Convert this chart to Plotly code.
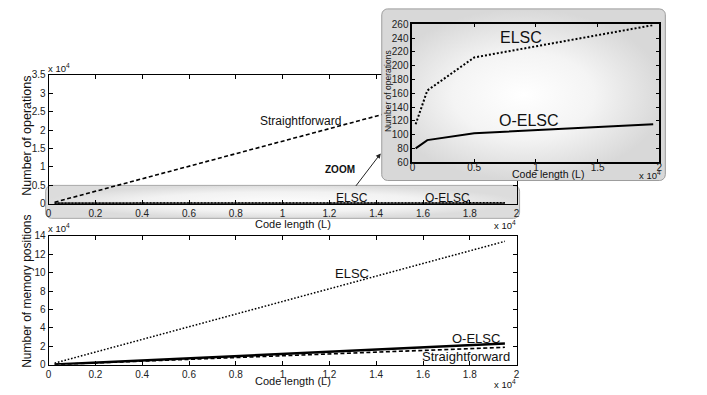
import numpy as np
import plotly.graph_objects as go

# ---------------- data ----------------
code_len = [256, 1200, 5000, 19500]
ops_straightforward = [435, 2040, 8500, 33150]
ops_elsc = [115, 164, 212, 259]
ops_oelsc = [80, 92, 102, 115]
mem_elsc = [1800, 8300, 34500, 134000]
mem_oelsc = [300, 1400, 5900, 23000]
mem_straightforward = [256, 1200, 4900, 19000]

x_tickvals = [0, 2000, 4000, 6000, 8000, 10000, 12000, 14000, 16000, 18000, 20000]
x_ticktext = ["0", "0.2", "0.4", "0.6", "0.8", "1", "1.2", "1.4", "1.6", "1.8", "2"]
ops_tickvals = [0, 5000, 10000, 15000, 20000, 25000, 30000, 35000]
ops_ticktext = ["0", "0.5", "1", "1.5", "2", "2.5", "3", "3.5"]
mem_tickvals = [0, 20000, 40000, 60000, 80000, 100000, 120000, 140000]
mem_ticktext = ["0", "2", "4", "6", "8", "10", "12", "14"]
inset_x_tickvals = [0, 5000, 10000, 15000, 20000]
inset_x_ticktext = ["0", "0.5", "1", "1.5", "2"]
inset_y_tickvals = [60, 80, 100, 120, 140, 160, 180, 200, 220, 240, 260]

W, H = 707, 395
FONT = "Liberation Sans, Arial, sans-serif"


def px(x):
    return x / W


def py(y):
    return 1 - y / H


def rounded_rect(x0, y0, x1, y1, r, n=8):
    xs, ys = [], []
    corners = [(x1 - r, y0 + r, -90, 0), (x1 - r, y1 - r, 0, 90),
               (x0 + r, y1 - r, 90, 180), (x0 + r, y0 + r, 180, 270)]
    for cx, cy, a0, a1 in corners:
        for a in np.linspace(np.radians(a0), np.radians(a1), n):
            xs.append(cx + r * np.cos(a))
            ys.append(cy + r * np.sin(a))
    xs.append(xs[0])
    ys.append(ys[0])
    return xs, ys


DASH = "4px,2.5px"
DOT = "1.6px,1.8px"

fig = go.Figure()

# ---- zoom band (overlay subplot xy, pixel coordinates) ----
bx, by = rounded_rect(43, 185, 521, 219, 6)
fig.add_trace(go.Scatter(x=bx, y=by, xaxis="x", yaxis="y", mode="lines",
                         fill="toself",
                         fillgradient=dict(type="radial",
                                           colorscale=[[0, "#fcfcfc"], [0.6, "#f2f2f2"], [1, "#dcdcdc"]]),
                         line=dict(color="#a8a8a8", width=1), hoverinfo="skip"))

# ---- top chart (x2y2) ----
fig.add_trace(go.Scatter(x=code_len, y=ops_straightforward, xaxis="x2", yaxis="y2", mode="lines",
                         line=dict(color="black", width=1.6, dash=DASH)))
fig.add_trace(go.Scatter(x=code_len, y=ops_elsc, xaxis="x2", yaxis="y2", mode="lines",
                         line=dict(color="black", width=1.5, dash=DOT)))
fig.add_trace(go.Scatter(x=code_len, y=ops_oelsc, xaxis="x2", yaxis="y2", mode="lines",
                         line=dict(color="black", width=2)))

# ---- bottom chart (x3y3) ----
fig.add_trace(go.Scatter(x=code_len, y=mem_elsc, xaxis="x3", yaxis="y3", mode="lines",
                         line=dict(color="black", width=1.5, dash=DOT)))
fig.add_trace(go.Scatter(x=code_len, y=mem_straightforward, xaxis="x3", yaxis="y3", mode="lines",
                         line=dict(color="black", width=1.6, dash=DASH)))
fig.add_trace(go.Scatter(x=code_len, y=mem_oelsc, xaxis="x3", yaxis="y3", mode="lines",
                         line=dict(color="black", width=2.5)))

# ---- inset background (overlay subplot x4y4) ----
ix, iy = rounded_rect(382, 3, 668, 180, 6)
fig.add_trace(go.Scatter(x=ix, y=iy, xaxis="x4", yaxis="y4", mode="lines",
                         fill="toself",
                         fillgradient=dict(type="radial",
                                           colorscale=[[0, "#ffffff"], [0.5, "#f4f4f4"], [1, "#d8d8d8"]]),
                         line=dict(color="#9c9c9c", width=1), hoverinfo="skip"))

# ---- inset chart (x5y5) ----
fig.add_trace(go.Scatter(x=code_len, y=ops_elsc, xaxis="x5", yaxis="y5", mode="lines",
                         line=dict(color="black", width=2, dash="2px,2px")))
fig.add_trace(go.Scatter(x=code_len, y=ops_oelsc, xaxis="x5", yaxis="y5", mode="lines",
                         line=dict(color="black", width=2)))

axis_common = dict(showline=True, linecolor="black", linewidth=1, mirror="allticks",
                   ticks="inside", ticklen=4, tickcolor="black", tickwidth=1,
                   showgrid=False, zeroline=False,
                   tickfont=dict(size=10, color="#222", family=FONT))
overlay = dict(visible=False, fixedrange=True, showgrid=False, zeroline=False)

layout = dict(
    width=W, height=H, margin=dict(l=0, r=0, t=0, b=0),
    paper_bgcolor="white", plot_bgcolor="rgba(0,0,0,0)",
    showlegend=False, hovermode=False, font=dict(family=FONT, color="#111"),
    xaxis=dict(overlay, domain=[0, 1], range=[0, W], anchor="y"),
    yaxis=dict(overlay, domain=[0, 1], range=[H, 0], anchor="x"),
    xaxis2=dict(axis_common, domain=[px(46), px(518)], range=[0, 20000], anchor="y2",
                tickvals=x_tickvals, ticktext=x_ticktext),
    yaxis2=dict(axis_common, domain=[py(204), py(71)], range=[0, 35000], anchor="x2",
                tickvals=ops_tickvals, ticktext=ops_ticktext),
    xaxis3=dict(axis_common, domain=[px(46), px(518)], range=[0, 20000], anchor="y3",
                tickvals=x_tickvals, ticktext=x_ticktext),
    yaxis3=dict(axis_common, domain=[py(370), py(237)], range=[0, 140000], anchor="x3",
                tickvals=mem_tickvals, ticktext=mem_ticktext),
    xaxis4=dict(overlay, domain=[0, 1], range=[0, W], anchor="y4"),
    yaxis4=dict(overlay, domain=[0, 1], range=[H, 0], anchor="x4"),
    xaxis5=dict(axis_common, domain=[px(413), px(662)], range=[0, 20000], anchor="y5",
                tickvals=inset_x_tickvals, ticktext=inset_x_ticktext, linewidth=2, ticklen=3,
                ticklabelstandoff=-5),
    yaxis5=dict(axis_common, domain=[py(161), py(19)], range=[60, 260], anchor="x5",
                tickvals=inset_y_tickvals, linewidth=2, ticklen=3),
)

ann = []


def paper_text(x, y, text, size, angle=0, bold=False):
    if bold:
        text = "<b>" + text + "</b>"
    ann.append(dict(x=px(x), y=py(y), xref="paper", yref="paper", text=text, showarrow=False,
                    textangle=angle, font=dict(size=size, color="#111", family=FONT),
                    xanchor="center", yanchor="middle"))


def data_text(xr, yr, x, y, text, size):
    ann.append(dict(x=x, y=y, xref=xr, yref=yr, text=text, showarrow=False,
                    font=dict(size=size, color="#111", family=FONT),
                    xanchor="center", yanchor="middle"))


# axis titles
paper_text(24, 134, "Number of operations", 12.5, angle=-90)
paper_text(292, 225, "Code length (L)", 11)
paper_text(24, 294, "Number of memory positions", 12, angle=-90)
paper_text(292, 387, "Code length (L)", 11)
paper_text(550, 173, "Code length (L)", 10.5)
paper_text(389, 88, "Number of operations", 8.5, angle=-90)
# exponent labels
paper_text(56, 64, "x 10<sup>4</sup>", 9.5)
paper_text(506, 226, "x 10<sup>4</sup>", 9.5)
paper_text(56, 229, "x 10<sup>4</sup>", 9.5)
paper_text(506, 390, "x 10<sup>4</sup>", 9.5)
paper_text(653, 174, "x 10<sup>4</sup>", 9.5)
# zoom label
paper_text(340, 169, "ZOOM", 10, bold=True)
ann.append(dict(x=px(381), y=py(152), xref="paper", yref="paper", text="", showarrow=True,
                ax=-26, ay=34, arrowhead=2, arrowsize=1, arrowwidth=1, arrowcolor="#222"))

# series labels
data_text("x2", "y2", 10760, 22600, "Straightforward", 12)
data_text("x2", "y2", 12970, 1600, "ELSC", 12)
data_text("x2", "y2", 17030, 1500, "O-ELSC", 12)
data_text("x5", "y5", 8800, 241, "ELSC", 16)
data_text("x5", "y5", 9400, 120, "O-ELSC", 16)
data_text("x3", "y3", 12970, 99000, "ELSC", 13)
data_text("x3", "y3", 18260, 28500, "O-ELSC", 13)
data_text("x3", "y3", 17840, 9500, "Straightforward", 13)

layout["annotations"] = ann
fig.update_layout(**layout)
fig.write_html(
    "out.html",
    config={"displayModeBar": False},
    post_script=("document.body.style.margin='0';"
                 "document.body.style.overflow='hidden';"
                 "document.documentElement.style.overflow='hidden';"),
)
